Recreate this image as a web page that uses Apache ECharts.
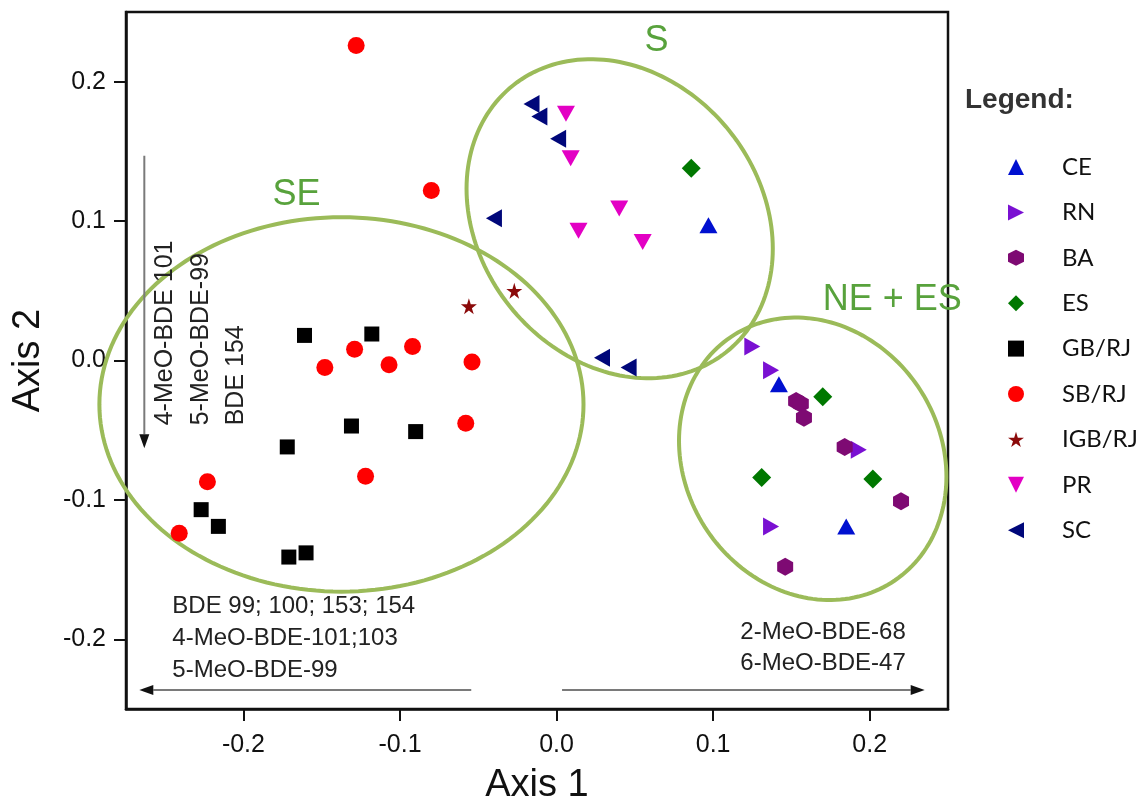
<!DOCTYPE html>
<html>
<head>
<meta charset="utf-8">
<script src="https://cdn.jsdelivr.net/npm/echarts@6/dist/echarts.min.js"></script>
<style>
  html, body { margin: 0; padding: 0; background: #fff; }
  #chart { width: 1148px; height: 810px; }
</style>
</head>
<body>
<div id="chart"></div>
<script>
// ---- data (Axis 1, Axis 2) ----
const seriesNames = ['CE', 'RN', 'BA', 'ES', 'GB/RJ', 'SB/RJ', 'IGB/RJ', 'PR', 'SC'];

const CE = [[0.097, 0.097], [0.142, -0.017], [0.185, -0.119]];
const RN = [[0.125, 0.010], [0.137, -0.007], [0.193, -0.064], [0.137, -0.119]];
const BA = [[0.153, -0.029], [0.156, -0.031], [0.158, -0.041], [0.184, -0.062], [0.220, -0.101], [0.146, -0.148]];
const ES = [[0.086, 0.138], [0.170, -0.026], [0.131, -0.084], [0.202, -0.085]];
const GB_RJ = [[-0.161, 0.018], [-0.118, 0.019], [-0.131, -0.047], [-0.090, -0.051], [-0.172, -0.062],
               [-0.227, -0.107], [-0.216, -0.119], [-0.171, -0.141], [-0.160, -0.138]];
const SB_RJ = [[-0.128, 0.226], [-0.080, 0.122], [-0.129, 0.008], [-0.092, 0.010], [-0.148, -0.005],
               [-0.107, -0.003], [-0.054, -0.001], [-0.058, -0.045], [-0.122, -0.083], [-0.223, -0.087], [-0.241, -0.124]];
const IGB_RJ = [[-0.056, 0.039], [-0.027, 0.050]];
const PR = [[0.006, 0.177], [0.009, 0.145], [0.040, 0.109], [0.014, 0.093], [0.055, 0.085]];
const SC = [[-0.016, 0.184], [-0.011, 0.175], [0.001, 0.159], [-0.040, 0.102], [0.029, 0.002], [0.046, -0.005]];

const xTicks = [-0.2, -0.1, 0.0, 0.1, 0.2];
const yTicks = [-0.2, -0.1, 0.0, 0.1, 0.2];

// cluster ellipses: centre + conjugate half-diameters (axis units)
const clusterEllipses = [
  { name: 'SE', cx: -0.1374, cy: -0.0315, ux: 0.1546, uy: 0.0, vy: 0.1343 },
  { name: 'S', cx: 0.0403, cy: 0.1017, ux: 0.0978, uy: -0.0215, vy: 0.1124 },
  { name: 'NE + ES', cx: 0.1636, cy: -0.0705, ux: 0.0854, uy: -0.0129, vy: 0.1005 }
];

// annotation texts (axis units)
const annotations = [
  { text: 'SE', at: [-0.1661, 0.1189], kind: 'cluster', align: 'center' },
  { text: 'S', at: [0.0639, 0.2291], kind: 'cluster', align: 'center' },
  { text: 'NE + ES', at: [0.2588, 0.0437], kind: 'cluster', align: 'right' },
  { text: 'BDE 99; 100; 153; 154', at: [-0.2454, -0.1762], kind: 'note', align: 'left' },
  { text: '4-MeO-BDE-101;103', at: [-0.2454, -0.1991], kind: 'note', align: 'left' },
  { text: '5-MeO-BDE-99', at: [-0.2454, -0.2220], kind: 'note', align: 'left' },
  { text: '2-MeO-BDE-68', at: [0.2230, -0.1948], kind: 'note', align: 'right' },
  { text: '6-MeO-BDE-47', at: [0.2230, -0.2170], kind: 'note', align: 'right' },
  { text: '4-MeO-BDE 101', at: [-0.2498, -0.0465], kind: 'vnote', align: 'left' },
  { text: '5-MeO-BDE-99', at: [-0.2268, -0.0465], kind: 'vnote', align: 'left' },
  { text: 'BDE 154', at: [-0.2045, -0.0465], kind: 'vnote', align: 'left' }
];

// loading arrows (axis units)
const arrows = [
  { from: [-0.0545, -0.2363], to: [-0.2665, -0.2363] },
  { from: [0.0035, -0.2363], to: [0.2351, -0.2363] },
  { from: [-0.2633, 0.1468], to: [-0.2633, -0.0630] }
];

// ---- styles ----
const seriesStyle = {
  'CE':     { color: '#0010D0', symbol: 'path://M0.5,0 L1,1 L0,1 Z', size: [18, 16] },
  'RN':     { color: '#7A10D2', symbol: 'path://M0,0 L1,0.5 L0,1 Z', size: [16, 18] },
  'BA':     { color: '#7E0A73', symbol: 'path://M0.5,0 L1,0.25 L1,0.75 L0.5,1 L0,0.75 L0,0.25 Z', size: [16, 18] },
  'ES':     { color: '#007800', symbol: 'diamond', size: [19, 19] },
  'GB/RJ':  { color: '#000000', symbol: 'rect', size: [15, 15] },
  'SB/RJ':  { color: '#FF0000', symbol: 'circle', size: [17, 17] },
  'IGB/RJ': { color: '#8B0A0A', symbol: 'path://M50,0 L61,35 L98,35 L68,57 L79,91 L50,70 L21,91 L32,57 L2,35 L39,35 Z', size: [16, 16] },
  'PR':     { color: '#E300C4', symbol: 'path://M0,0 L1,0 L0.5,1 Z', size: [18, 16] },
  'SC':     { color: '#00077A', symbol: 'path://M1,0 L0,0.5 L1,1 Z', size: [16, 18] }
};
const seriesData = [CE, RN, BA, ES, GB_RJ, SB_RJ, IGB_RJ, PR, SC];

const FONT = "'Liberation Sans', Arial, sans-serif";
const GREEN_LINE = '#9BBB59';
const GREEN_TEXT = '#58A23C';

const chart = echarts.init(document.getElementById('chart'), null, { renderer: 'canvas' });

const scatterSeries = seriesNames.map((name, i) => ({
  name: name,
  type: 'scatter',
  data: seriesData[i],
  symbol: seriesStyle[name].symbol,
  symbolSize: seriesStyle[name].size,
  itemStyle: { color: seriesStyle[name].color, opacity: 1 },
  z: 5,
  emphasis: { disabled: true }
}));

const ellipseSeries = {
  type: 'custom',
  name: 'ellipses',
  silent: true,
  z: 2,
  clip: false,
  data: clusterEllipses.map(e => [e.cx, e.cy]),
  encode: { x: 0, y: 1 },
  renderItem: function (params, api) {
    const e = clusterEllipses[params.dataIndex];
    const pts = [];
    const n = 180;
    for (let i = 0; i < n; i++) {
      const t = i / n * 2 * Math.PI;
      pts.push(api.coord([e.cx + e.ux * Math.cos(t), e.cy + e.uy * Math.cos(t) + e.vy * Math.sin(t)]));
    }
    return { type: 'polygon', shape: { points: pts }, style: { fill: null, stroke: GREEN_LINE, lineWidth: 4 } };
  }
};

const arrowSeries = {
  type: 'custom',
  name: 'arrows',
  silent: true,
  z: 3,
  clip: false,
  data: arrows.map(a => a.to),
  encode: { x: 0, y: 1 },
  renderItem: function (params, api) {
    const a = arrows[params.dataIndex];
    const p1 = api.coord(a.from);
    const p2 = api.coord(a.to);
    const dx = p2[0] - p1[0], dy = p2[1] - p1[1];
    const len = Math.sqrt(dx * dx + dy * dy);
    const ux = dx / len, uy = dy / len;
    const hl = 14, hw = 5;
    const base = [p2[0] - ux * hl, p2[1] - uy * hl];
    return {
      type: 'group',
      children: [
        { type: 'line', shape: { x1: p1[0], y1: p1[1], x2: base[0], y2: base[1] }, style: { stroke: '#7a7a7a', lineWidth: 2 } },
        { type: 'polygon', shape: { points: [p2, [base[0] - uy * hw, base[1] + ux * hw], [base[0] + uy * hw, base[1] - ux * hw]] }, style: { fill: '#111' } }
      ]
    };
  }
};

const textSeries = {
  type: 'custom',
  name: 'texts',
  silent: true,
  z: 4,
  clip: false,
  data: annotations.map(a => a.at),
  encode: { x: 0, y: 1 },
  renderItem: function (params, api) {
    const a = annotations[params.dataIndex];
    const p = api.coord(a.at);
    if (a.kind === 'cluster') {
      return { type: 'text', x: p[0], y: p[1], style: { text: a.text, x: 0, y: 0, fill: GREEN_TEXT, font: '36px ' + FONT, align: a.align, verticalAlign: 'middle' } };
    }
    if (a.kind === 'vnote') {
      return { type: 'text', x: p[0], y: p[1], rotation: Math.PI / 2, style: { text: a.text, x: 0, y: 0, fill: '#222', font: '25px ' + FONT, align: 'left', verticalAlign: 'middle' } };
    }
    return { type: 'text', x: p[0], y: p[1], style: { text: a.text, x: 0, y: 0, fill: '#222', font: '24px ' + FONT, align: a.align, verticalAlign: 'middle' } };
  }
};

const option = {
  animation: false,
  backgroundColor: '#ffffff',
  title: {
    text: 'Legend:',
    left: 965,
    top: 86,
    padding: 0,
    textStyle: { fontFamily: FONT, fontWeight: 'bold', fontSize: 28, color: '#333' }
  },
  legend: {
    data: seriesNames,
    orient: 'vertical',
    left: 1008,
    top: 155,
    padding: 0,
    itemWidth: 16,
    itemHeight: 16,
    itemGap: 21.4,
    selectedMode: false,
    textStyle: { fontFamily: "Lato, 'Open Sans', sans-serif", fontSize: 24, color: '#111', lineHeight: 24, padding: [0, 0, 0, 33] }
  },
  grid: {
    left: 126, right: 200, top: 12, bottom: 101,
    show: true, borderColor: '#111', borderWidth: 2.5,
    containLabel: false, outerBoundsMode: 'none'
  },
  xAxis: {
    type: 'value', min: -0.275, max: 0.25,
    splitLine: { show: false },
    axisLine: { show: true, onZero: false, lineStyle: { color: '#111', width: 2.5 } },
    axisTick: { show: true, customValues: xTicks, length: 12, lineStyle: { color: '#111', width: 2 } },
    axisLabel: { customValues: xTicks, formatter: v => v.toFixed(1), fontFamily: FONT, fontSize: 25, color: '#111', margin: 24 },
    name: 'Axis 1', nameLocation: 'middle', nameGap: 58,
    nameTextStyle: { fontFamily: FONT, fontSize: 38, color: '#111' }
  },
  yAxis: {
    type: 'value', min: -0.25, max: 0.25,
    splitLine: { show: false },
    axisLine: { show: true, onZero: false, lineStyle: { color: '#111', width: 2.5 } },
    axisTick: { show: true, customValues: yTicks, length: 12, lineStyle: { color: '#111', width: 2 } },
    axisLabel: { customValues: yTicks, formatter: v => v.toFixed(1), fontFamily: FONT, fontSize: 25, color: '#111', margin: 20 },
    name: 'Axis 2', nameLocation: 'middle', nameGap: 78,
    nameTextStyle: { fontFamily: FONT, fontSize: 38, color: '#111' }
  },
  series: [ellipseSeries, arrowSeries, textSeries].concat(scatterSeries)
};

chart.setOption(option);
</script>
</body>
</html>
